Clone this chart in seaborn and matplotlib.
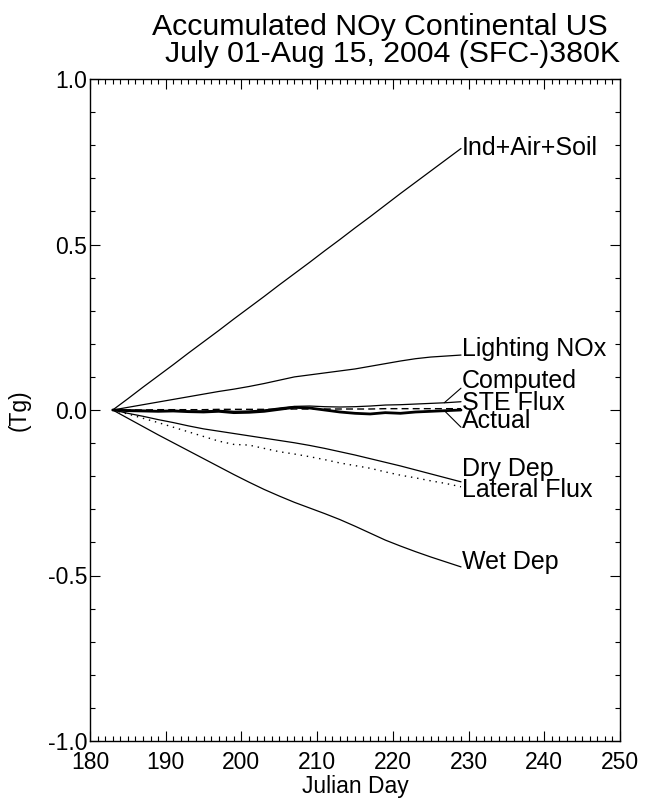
import matplotlib
matplotlib.use("Agg")
import matplotlib.pyplot as plt
import seaborn as sns
import numpy as np
import pandas as pd
from matplotlib.ticker import MultipleLocator, FormatStrFormatter

# ---------------- data ----------------
days = [183, 185, 187, 189, 191, 193, 195, 197, 199, 201, 203, 205,
        207, 209, 211, 213, 215, 217, 219, 221, 223, 225, 227, 229]

ind_air_soil = [0.000, 0.034, 0.069, 0.103, 0.137, 0.172, 0.206, 0.240,
                0.275, 0.309, 0.343, 0.378, 0.412, 0.446, 0.481, 0.515,
                0.550, 0.584, 0.619, 0.654, 0.688, 0.722, 0.756, 0.790]
lighting_nox = [0.000, 0.008, 0.016, 0.024, 0.032, 0.040, 0.048, 0.056,
                0.063, 0.071, 0.080, 0.090, 0.100, 0.106, 0.112, 0.118,
                0.124, 0.132, 0.140, 0.148, 0.155, 0.160, 0.163, 0.166]
computed = [0.000, 0.000, -0.001, -0.002, -0.001, -0.003, -0.003, -0.001,
            -0.004, -0.003, 0.000, 0.006, 0.011, 0.012, 0.010, 0.009,
            0.010, 0.012, 0.015, 0.016, 0.018, 0.020, 0.022, 0.025]
ste_flux = [0.000, 0.000, 0.000, 0.001, 0.001, 0.001, 0.001, 0.002,
            0.002, 0.002, 0.002, 0.002, 0.003, 0.003, 0.003, 0.003,
            0.003, 0.003, 0.004, 0.004, 0.004, 0.004, 0.004, 0.004]
actual = [0.000, -0.002, -0.003, -0.004, -0.003, -0.005, -0.006, -0.004,
          -0.008, -0.007, -0.004, 0.002, 0.008, 0.006, 0.000, -0.006,
          -0.010, -0.012, -0.008, -0.010, -0.006, -0.004, -0.002, 0.000]
dry_dep = [0.000, -0.010, -0.019, -0.029, -0.038, -0.048, -0.057, -0.064,
           -0.071, -0.078, -0.085, -0.092, -0.099, -0.107, -0.116, -0.126,
           -0.136, -0.147, -0.158, -0.169, -0.181, -0.193, -0.205, -0.217]
lateral_flux = [0.000, -0.012, -0.025, -0.038, -0.052, -0.066, -0.080, -0.094,
                -0.104, -0.106, -0.116, -0.126, -0.133, -0.141, -0.150, -0.160,
                -0.168, -0.176, -0.187, -0.197, -0.205, -0.214, -0.222, -0.232]
wet_dep = [0.000, -0.025, -0.050, -0.075, -0.099, -0.123, -0.147, -0.171,
           -0.195, -0.218, -0.240, -0.260, -0.279, -0.296, -0.313, -0.331,
           -0.351, -0.372, -0.393, -0.411, -0.428, -0.444, -0.459, -0.474]

series_names = ["Ind+Air+Soil", "Lighting NOx", "Computed", "STE Flux",
                "Actual", "Dry Dep", "Lateral Flux", "Wet Dep"]
series_values = [ind_air_soil, lighting_nox, computed, ste_flux,
                 actual, dry_dep, lateral_flux, wet_dep]
# label baselines (data units) at right end of curves
label_y = [0.770, 0.163, 0.066, 0.000, -0.054, -0.200, -0.263, -0.480]

title_line1 = "Accumulated NOy Continental US"
title_line2 = "July 01-Aug 15, 2004 (SFC-)380K"
x_label = "Julian Day"
y_label = "(Tg)"

# ---------------- styling ----------------
sns.set_theme(style="white")
plt.rcParams["font.family"] = ["Liberation Sans", "DejaVu Sans"]
plt.rcParams["axes.unicode_minus"] = False
plt.rcParams["text.color"] = "black"
plt.rcParams["axes.labelcolor"] = "black"
plt.rcParams["xtick.color"] = "black"
plt.rcParams["ytick.color"] = "black"

W, H = 645, 802
fig = plt.figure(figsize=(W / 100, H / 100), dpi=100)
ax = fig.add_axes([90 / W, 1 - 741 / H, (620 - 90) / W, (741 - 79) / H])

styles = {
    "Ind+Air+Soil": dict(lw=0.9, ls="-"),
    "Lighting NOx": dict(lw=0.9, ls="-"),
    "Computed": dict(lw=0.9, ls="-"),
    "STE Flux": dict(lw=1.0, ls=(0, (5, 3))),
    "Actual": dict(lw=2.0, ls="-"),
    "Dry Dep": dict(lw=0.9, ls="-"),
    "Lateral Flux": dict(lw=1.0, ls=(0, (1, 3.5))),
    "Wet Dep": dict(lw=0.9, ls="-"),
}

for name, vals in zip(series_names, series_values):
    df = pd.DataFrame({"day": days, "val": vals})
    st = styles[name]
    sns.lineplot(data=df, x="day", y="val", ax=ax, color="black",
                 linewidth=st["lw"], linestyle=st["ls"], legend=False)

# labels
for name, vals, ly in zip(series_names, series_values, label_y):
    ax.text(days[-1] + 0.15, ly, name, fontsize=18, va="baseline",
            ha="left", color="black")

# leader lines for Computed and Actual
lead_x0 = days[-2] - 0.2
for name, ly_off in [("Computed", 0.066), ("Actual", -0.052)]:
    vals = series_values[series_names.index(name)]
    ax.annotate("", xy=(lead_x0, vals[-2]), xytext=(days[-1] + 0.0, ly_off),
                arrowprops=dict(arrowstyle="-", lw=0.8, color="black",
                                shrinkA=0, shrinkB=0))

ax.set_xlim(180, 250)
ax.set_ylim(-1.0, 1.0)
ax.xaxis.set_major_locator(MultipleLocator(10))
ax.xaxis.set_minor_locator(MultipleLocator(1))
ax.yaxis.set_major_locator(MultipleLocator(0.5))
ax.yaxis.set_minor_locator(MultipleLocator(0.1))
ax.yaxis.set_major_formatter(FormatStrFormatter("%.1f"))
ax.tick_params(which="both", direction="in", top=True, right=True,
               bottom=True, left=True, color="black", width=0.8)
ax.tick_params(which="major", length=7.5, labelsize=16.5, pad=7,
               labelcolor="black")
ax.tick_params(which="minor", length=3.8)
ax.tick_params(axis="y", which="major", pad=2)
ax.tick_params(labeltop=False, labelright=False)
for sp in ax.spines.values():
    sp.set_visible(True)
    sp.set_color("black")
    sp.set_linewidth(1.0)

ax.set_xlabel(x_label, fontsize=16.5, labelpad=1, color="black")
ax.set_ylabel(y_label, fontsize=16.5, labelpad=12, color="black")

fig.text(380 / W, 1 - 35 / H, title_line1, fontsize=21.8, ha="center",
         va="baseline", color="black")
fig.text(393 / W, 1 - 62 / H, title_line2, fontsize=21.8, ha="center",
         va="baseline", color="black")

fig.savefig("out.png", dpi=100, facecolor="white")
